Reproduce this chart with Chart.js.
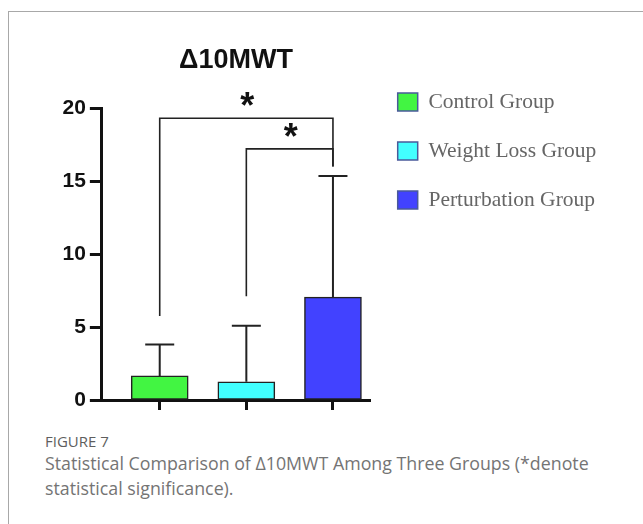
<!DOCTYPE html>
<html>
<head>
<meta charset="utf-8">
<script src="https://cdn.jsdelivr.net/npm/chart.js@4/dist/chart.umd.min.js"></script>
<style>
  html, body { margin: 0; padding: 0; background: #fff; }
  body { width: 643px; height: 524px; position: relative; overflow: hidden; }
  #frame { position: absolute; left: 8px; top: 11px; right: -5px; bottom: -5px;
           border-left: 1px solid #a8a8a8; border-top: 1px solid #a8a8a8; }
  #wrap { position: absolute; left: 0; top: 0; width: 643px; height: 420px; }
  .cap { position: absolute; left: 45px; font-family: "Open Sans", sans-serif; white-space: nowrap; }
  #figno { top: 431px; font-size: 15px; line-height: 20px; color: #5e5e5e; }
  #figtxt { top: 451.4px; font-size: 17.8px; line-height: 24.5px; color: #747474; }
</style>
</head>
<body>
<div id="frame"></div>
<div id="wrap"><canvas id="chart"></canvas></div>
<div class="cap" id="figno">FIGURE 7</div>
<div class="cap" id="figtxt">Statistical Comparison of Δ10MWT Among Three Groups (*denote<br>statistical significance).</div>
<script>
// groups and values (mean, upper SD)
const groups = ['Control Group', 'Weight Loss Group', 'Perturbation Group'];
const means = [1.65, 1.25, 7.05];
const sdUpper = [3.8, 5.08, 15.35];
const barColors = ['#42f542', '#42ffff', '#4242ff'];

// significance brackets: from group, to group, bracket height, leg ends
const sigFrom = [0, 1];
const sigTo = [2, 2];
const sigHeight = [19.3, 17.2];
const sigLeftEnd = [5.75, 7.1];
const sigRightEnd = [16, 16];
const sigMark = ['*', '*'];

const yTicks = [0, 5, 10, 15, 20];

// draws the error bars and the brackets with stars
const annotations = {
  id: 'annotations',
  afterDatasetsDraw(chart) {
    const ctx = chart.ctx;
    const xs = chart.scales.x, ys = chart.scales.y;
    ctx.save();
    ctx.strokeStyle = '#222';
    ctx.lineWidth = 2;
    means.forEach((m, i) => {
      const x = xs.getPixelForValue(i);
      const y0 = ys.getPixelForValue(m);
      const y1 = ys.getPixelForValue(sdUpper[i]);
      ctx.beginPath();
      ctx.moveTo(x, y0); ctx.lineTo(x, y1);
      ctx.moveTo(x - 14.5, y1); ctx.lineTo(x + 14.5, y1);
      ctx.stroke();
    });
    ctx.lineWidth = 1.6;
    sigFrom.forEach((a, k) => {
      const xa = xs.getPixelForValue(a), xb = xs.getPixelForValue(sigTo[k]);
      const yt = ys.getPixelForValue(sigHeight[k]);
      ctx.beginPath();
      ctx.moveTo(xa, ys.getPixelForValue(sigLeftEnd[k]));
      ctx.lineTo(xa, yt);
      ctx.lineTo(xb, yt);
      ctx.lineTo(xb, ys.getPixelForValue(sigRightEnd[k]));
      ctx.stroke();
      const size = 36;
      ctx.font = 'bold ' + size + 'px "Liberation Sans", Arial, sans-serif';
      ctx.fillStyle = '#111';
      ctx.textAlign = 'center';
      ctx.textBaseline = 'alphabetic';
      const yc = ys.getPixelForValue(sigHeight[k] + 1.27);
      ctx.fillText(sigMark[k], (xa + xb) / 2 + 1, yc + 0.52 * size);
    });
    ctx.restore();
  }
};

const ctx = document.getElementById('chart');
new Chart(ctx, {
  type: 'bar',
  data: {
    datasets: [{
      data: means.map((m, i) => ({ x: i, y: m })),
      backgroundColor: barColors,
      borderColor: '#222',
      borderWidth: 1.5,
      borderSkipped: false,
      barThickness: 57
    }]
  },
  options: {
    responsive: true,
    maintainAspectRatio: false,
    animation: false,
    layout: { padding: { top: 0, left: 58.5, right: 42.8, bottom: 10 } },
    scales: {
      x: {
        type: 'linear',
        offset: false,
        min: -0.668,
        max: 2.43,
        afterBuildTicks: (scale) => { scale.ticks = groups.map((g, i) => ({ value: i })); },
        ticks: { display: false },
        grid: { display: true, offset: false, drawOnChartArea: false, drawTicks: true, tickLength: 10, tickWidth: 3, tickColor: '#111' },
        border: { display: true, width: 3, color: '#111' }
      },
      y: {
        min: 0,
        max: 20,
        afterBuildTicks: (scale) => { scale.ticks = yTicks.map(v => ({ value: v })); },
        ticks: {
          padding: 4,
          color: '#111',
          font: { family: '"Liberation Sans", Arial, sans-serif', size: 21, weight: 'bold' }
        },
        grid: { display: true, drawOnChartArea: false, drawTicks: true, tickLength: 12, tickWidth: 3, tickColor: '#111' },
        border: { display: true, width: 3, color: '#111' }
      }
    },
    plugins: {
      title: {
        display: true,
        text: 'Δ10MWT',
        fullSize: false,
        color: '#111',
        font: { family: '"Liberation Sans", Arial, sans-serif', size: 27, weight: 'bold' },
        padding: { top: 44.8, bottom: 30.8 }
      },
      legend: {
        position: 'right',
        align: 'start',
        maxWidth: 230,
        title: { display: true, text: '', font: { size: 10, lineHeight: 1 }, padding: { top: 53.75, bottom: 0 } },
        labels: {
          boxWidth: 20,
          boxHeight: 18,
          padding: 27.5,
          color: '#111',
          font: { family: '"Liberation Serif", "Times New Roman", serif', size: 21.5 },
          generateLabels: () => groups.map((g, i) => ({
            text: g,
            fillStyle: barColors[i],
            strokeStyle: '#4a5a9a',
            lineWidth: 1.5,
            hidden: false,
            index: i
          }))
        }
      },
      tooltip: { enabled: false }
    }
  },
  plugins: [annotations]
});
</script>
</body>
</html>
